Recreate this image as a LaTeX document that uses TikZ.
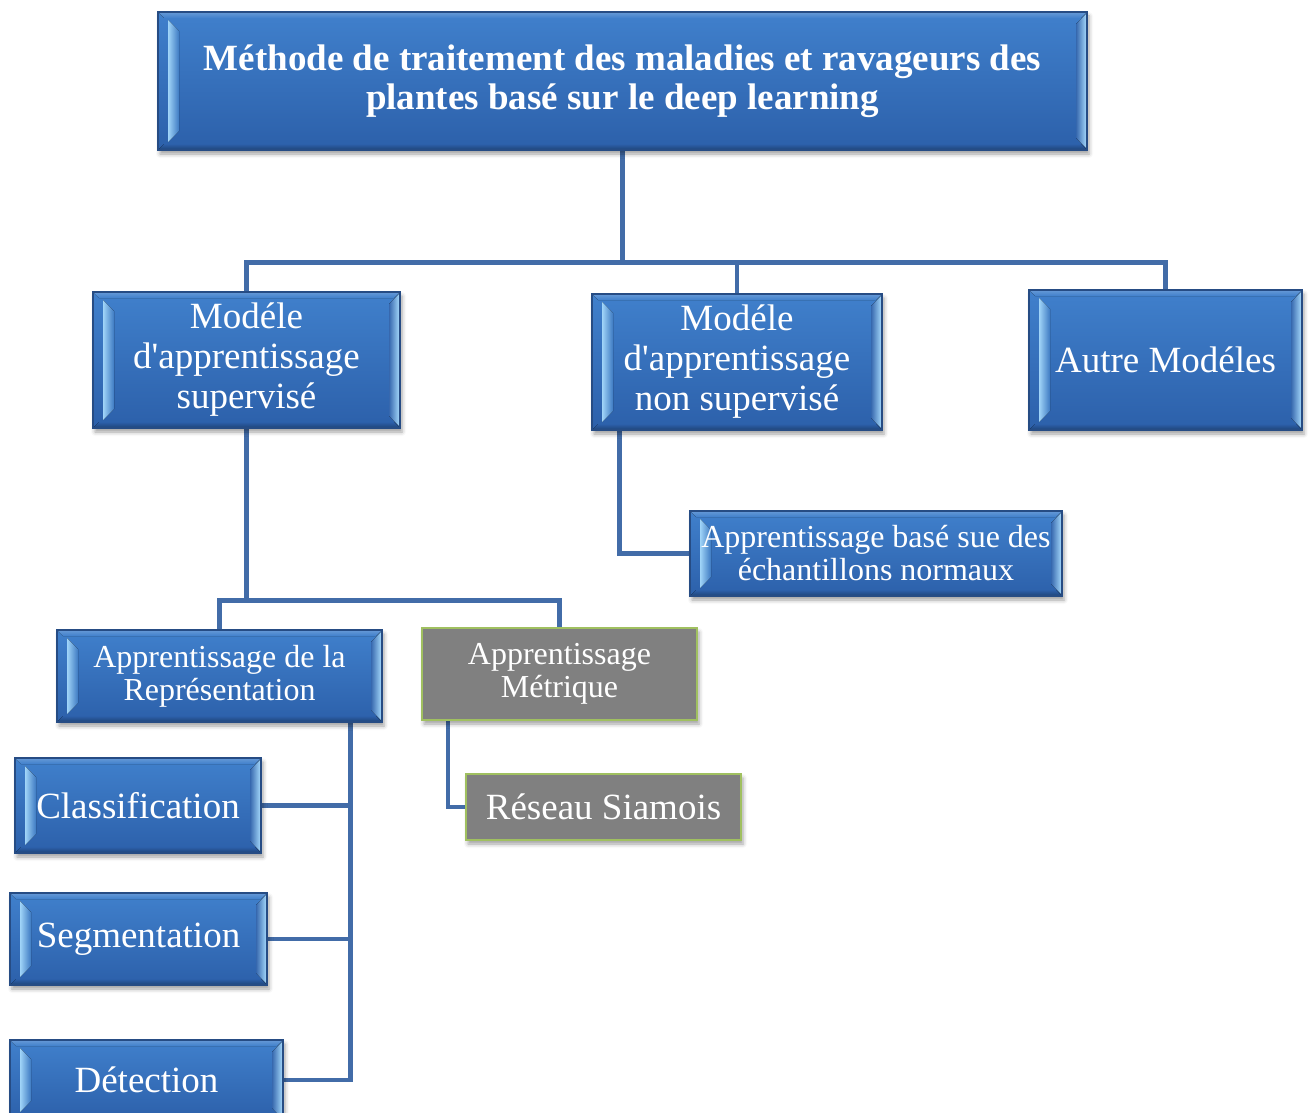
\documentclass[tikz,border=0pt]{standalone}
\usepackage{fontspec}
\setmainfont{Liberation Serif}[Ligatures=TeXOff]
\usetikzlibrary{calc,shadows.blur,backgrounds}

\definecolor{boxtop}{RGB}{64,128,204}
\definecolor{boxbot}{RGB}{44,96,170}
\definecolor{boxedge}{RGB}{38,76,132}
\definecolor{bevlight}{RGB}{160,212,248}
\definecolor{linkblue}{RGB}{66,108,168}
\definecolor{metgray}{RGB}{128,128,128}
\definecolor{metedge}{RGB}{160,192,96}

\newcommand\ftitle{\bfseries\fontsize{37}{39}\selectfont}
\newcommand\fbig{\fontsize{37}{40}\selectfont}
\newcommand\fmid{\fontsize{32}{33}\selectfont}

% bevelled edges drawn inside each blue box: an inset light strip on the
% left, a light strip on the right edge, a faint top highlight and a
% darker bottom band
\newcommand\bevels{%
  \coordinate (pnw) at (path picture bounding box.north west);
  \coordinate (pne) at (path picture bounding box.north east);
  \coordinate (psw) at (path picture bounding box.south west);
  \coordinate (pse) at (path picture bounding box.south east);
  \fill[top color=boxtop!80!white, bottom color=boxtop]
    (pnw) -- (pne) -- ($(pne)+(-6,6)$) -- ($(pnw)+(6,6)$) -- cycle;
  \fill[top color=boxbot, bottom color=boxbot!70!black]
    (psw) -- (pse) -- ($(pse)+(-6,-6)$) -- ($(psw)+(6,-6)$) -- cycle;
  \fill[left color=bevlight, right color=boxtop!95!black]
    ($(pnw)+(10,8)$) -- ($(pnw)+(21,19)$) -- ($(psw)+(21,-19)$)
    -- ($(psw)+(10,-8)$) -- cycle;
  \fill[left color=boxbot!95!white, right color=bevlight]
    ($(pne)+(-1,2)$) -- ($(pne)+(-11,12)$) -- ($(pse)+(-11,-12)$)
    -- ($(pse)+(-1,-2)$) -- cycle;
}

\tikzset{
  softshadow/.style={blur shadow={shadow xshift=2pt, shadow yshift=-4pt,
      shadow blur radius=4pt, shadow opacity=38}},
  bluebox/.style={draw=boxedge, line width=1.2pt, top color=boxtop,
      bottom color=boxbot, text=white, align=center, inner sep=0pt,
      softshadow, path picture={\bevels}},
  graybox/.style={draw=metedge, line width=2.5pt, fill=metgray, text=white,
      align=center, inner sep=0pt, softshadow},
  link/.style={draw=linkblue, line width=4.5pt},
}

\begin{document}
\begin{tikzpicture}[x=1pt,y=-1pt]
\useasboundingbox (0,0) rectangle (1311,1113);

% root
\node[bluebox, minimum width=929pt, minimum height=138pt, font=\ftitle]
  (title) at (622.5,81)
  {Méthode de traitement des maladies et ravageurs des\\plantes basé sur le deep learning};

% first level
\node[bluebox, minimum width=307pt, minimum height=136pt, font=\fbig]
  (sup) at (246.5,360) {Modéle\\d'apprentissage\\supervisé};
\node[bluebox, minimum width=290pt, minimum height=136pt, font=\fbig]
  (nonsup) at (737,362) {Modéle\\d'apprentissage\\non supervisé};
\node[bluebox, minimum width=273pt, minimum height=140pt, font=\fbig]
  (autre) at (1165.5,360) {Autre Modéles};

% unsupervised branch
\node[bluebox, minimum width=372pt, minimum height=85pt, font=\fmid]
  (normaux) at (876,553.5) {Apprentissage basé sue des\\échantillons normaux};

% supervised branch
\node[bluebox, minimum width=325pt, minimum height=92pt, font=\fmid]
  (repr) at (219.5,676) {Apprentissage de la\\Représentation};
\node[graybox, minimum width=275pt, minimum height=92pt, font=\fmid]
  (metr) at (559.5,674) {Apprentissage\\Métrique};
\node[graybox, minimum width=275pt, minimum height=66pt, font=\fbig]
  (siam) at (603.5,807) {Réseau Siamois};

\node[bluebox, minimum width=246pt, minimum height=95pt, font=\fbig]
  (classif) at (138,805.5) {Classification};
\node[bluebox, minimum width=257pt, minimum height=92pt, font=\fbig]
  (segm) at (138.5,939) {Segmentation};
\node[bluebox, minimum width=273pt, minimum height=80pt, font=\fbig]
  (detect) at (146.5,1080) {Détection};

% connectors
\begin{scope}[on background layer]
  \path (title.south) ++(0,112) coordinate (hub);
  \draw[link] (title.south) -- (hub);
  \draw[link] (sup.north) |- (hub) -| (autre.north);
  \draw[link] (hub) -| (nonsup.north);

  \path (sup.south) ++(0,172) coordinate (hub2);
  \draw[link] (sup.south) -- (hub2);
  \draw[link] (repr.north) |- (hub2) -| (metr.north);

  \coordinate (nsv) at ($(nonsup.south west)+(28,0)$);
  \draw[link] (nsv) |- (normaux.west);

  \coordinate (mv) at ($(metr.south west)+(27,0)$);
  \draw[link] (mv) |- (siam.west);

  \coordinate (rv) at ($(repr.south east)+(-32,0)$);
  \draw[link] (rv) |- (detect.east);
  \draw[link] (classif.east) -- (classif.east -| rv);
  \draw[link] (segm.east) -- (segm.east -| rv);
\end{scope}
\end{tikzpicture}
\end{document}
